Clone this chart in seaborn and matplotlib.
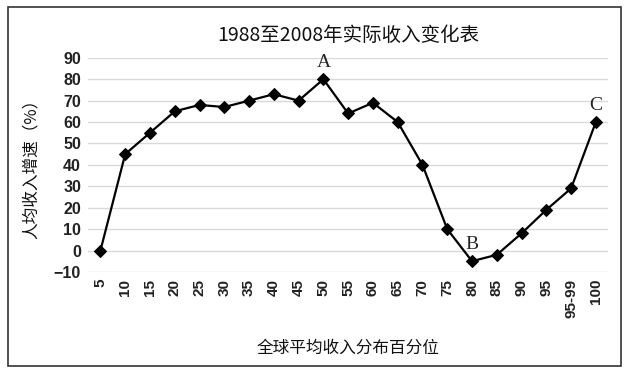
import matplotlib
matplotlib.use("Agg")
import matplotlib.pyplot as plt
import seaborn as sns
import pandas as pd
from matplotlib.patches import Rectangle

categories = ["5", "10", "15", "20", "25", "30", "35", "40", "45", "50", "55",
              "60", "65", "70", "75", "80", "85", "90", "95", "95-99", "100"]
growth = [0, 45, 55, 65, 68, 67, 70, 73, 70, 80, 64, 69, 60, 40, 10, -5, -2, 8, 19, 29, 60]
annotations = {"A": "50", "B": "80", "C": "100"}

sns.set_theme(style="white")
plt.rcParams['font.family'] = ['Noto Sans CJK SC', 'DejaVu Sans']

df = pd.DataFrame({"pct": categories, "growth": growth})
df["pos"] = range(len(categories))

fig = plt.figure(figsize=(6.29, 3.73), dpi=100)
ax = fig.add_axes([0.14, 0.271, 0.827, 0.574])

sns.lineplot(data=df, x="pos", y="growth", ax=ax, color="black", lw=1.6,
             marker="D", markersize=6.5, markeredgecolor="black", zorder=3)

ax.set_xlim(-0.5, len(categories) - 0.5)
ax.set_ylim(-10, 90)
ax.set_yticks(range(-10, 91, 10))
ax.set_xticks(df["pos"])
ax.set_xticklabels(categories, rotation=90, fontsize=11, family=['Liberation Sans'],
                   fontweight="bold", color="#222222")
for lbl in ax.get_yticklabels():
    lbl.set_fontsize(11.5)
    lbl.set_family(['Liberation Sans'])
    lbl.set_fontweight("bold")
    lbl.set_color("#222222")
ax.tick_params(axis="both", length=0, pad=5)
ax.yaxis.grid(True, color="#d9d9d9", lw=1)
for s in ax.spines.values():
    s.set_visible(False)

ax.set_xlabel("全球平均收入分布百分位", fontsize=12, labelpad=16, color="#111111")
ax.set_ylabel("人均收入增速（%）", fontsize=12, labelpad=10, color="#111111")
ax.set_title("1988至2008年实际收入变化表", fontsize=14, pad=12, color="#111111")

for name, cat in annotations.items():
    i = categories.index(cat)
    y = growth[i]
    ax.annotate(name, (i, y), xytext=(0, 6), textcoords="offset points",
                ha="center", va="bottom", fontsize=14, family=['Liberation Serif'])

fig.patches.append(Rectangle((0.012, 0.02), 0.976, 0.96, transform=fig.transFigure,
                             fill=False, edgecolor="#333333", lw=1.2))

fig.savefig("out.png", dpi=100)
